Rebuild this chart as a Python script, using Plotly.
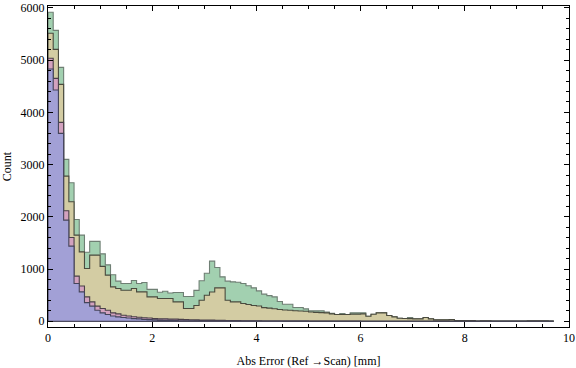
import plotly.graph_objects as go

bin_width = 0.1

# Counts per 0.1 mm bin, starting at 0.0 (97 bins: 0.0 .. 9.6)
green = [5918, 5572, 4863, 3100, 2652, 1949, 1649, 1320, 1530, 1530,
         1290, 1080, 890, 767, 722, 722, 780, 722, 741, 610,
         610, 555, 575, 540, 550, 550, 473, 473, 590, 775,
         920, 1150, 1030, 850, 767, 754, 745, 722, 680, 639,
         581, 518, 490, 466, 377, 326, 326, 262, 262, 236,
         198, 198, 198, 173, 150, 128, 147, 128, 160, 160,
         160, 96, 134, 160, 166, 109, 83, 58, 51, 70,
         45, 45, 70, 45, 26, 26, 26, 30, 12, 12,
         12, 12, 3, 10, 10, 2, 2, 2, 2, 2,
         2, 2, 10, 10, 10, 10, 5]

tan = [5515, 5208, 4537, 2780, 2288, 1648, 1329, 1010, 1265, 1265,
       1050, 882, 658, 626, 594, 594, 626, 562, 562, 466,
       466, 435, 435, 435, 370, 370, 243, 243, 300, 400,
       498, 560, 639, 639, 400, 370, 370, 340, 320, 300,
       290, 260, 250, 240, 225, 215, 210, 200, 195, 190,
       175, 170, 165, 160, 140, 128, 128, 128, 135, 135,
       140, 96, 134, 160, 160, 109, 83, 58, 51, 50,
       45, 45, 70, 45, 26, 26, 26, 30, 12, 12,
       12, 12, 3, 10, 10, 2, 2, 2, 2, 2,
       2, 2, 10, 10, 10, 10, 5]

pink = [5036, 4652, 3809, 2115, 1604, 863, 675, 466, 370, 288,
        243, 211, 160, 140, 115, 100, 85, 75, 65, 60,
        50, 45, 45, 40, 40, 35, 30, 25, 25, 20,
        20, 20, 18, 15, 12, 12, 12, 10, 8, 8,
        6, 5, 5, 4, 4, 3, 3, 2, 2, 2,
        1, 1, 1, 1, 1, 1, 1, 1, 1, 1,
        0, 0, 0, 0, 0, 0, 0, 0, 0, 0,
        0, 0, 0, 0, 0, 0, 0, 0, 0, 0,
        0, 0, 0, 0, 0, 0, 0, 0, 0, 0,
        0, 0, 0, 0, 0, 0, 0]

blue = [4831, 4428, 3598, 1936, 1438, 722, 562, 355, 288, 211,
        160, 128, 100, 83, 70, 60, 50, 45, 35, 30,
        25, 20, 18, 15, 12, 10, 8, 7, 6, 5,
        5, 5, 4, 4, 4, 3, 3, 3, 3, 3,
        3, 2, 2, 2, 2, 1, 1, 1, 1, 1,
        0, 0, 0, 0, 0, 0, 0, 0, 0, 0,
        0, 0, 0, 0, 0, 0, 0, 0, 0, 0,
        0, 0, 0, 0, 0, 0, 0, 0, 0, 0,
        0, 0, 0, 0, 0, 0, 0, 0, 0, 0,
        0, 0, 0, 0, 0, 0, 0]

x_title = "Abs Error (Ref \u2192Scan) [mm]"
y_title = "Count"


def outline(vals):
    xs, ys = [0.0], [0.0]
    for i, v in enumerate(vals):
        xs.append(round(i * bin_width, 4))
        ys.append(v)
    xs.append(round(len(vals) * bin_width, 4))
    ys.append(0)
    xs.append(0.0)
    ys.append(0)
    return xs, ys


series = [
    (green, "#a2d0b0", "#6f7f74"),
    (tan, "#d3cca3", "#4a4a3e"),
    (pink, "#d3a2bf", "#4a4048"),
    (blue, "#a2a0d6", "#44445a"),
]

fig = go.Figure()
for vals, fillc, linec in series:
    xs, ys = outline(vals)
    fig.add_trace(go.Scatter(
        x=xs, y=ys, mode="lines", line_shape="hv",
        fill="toself", fillcolor=fillc,
        line=dict(color=linec, width=1.1),
        hoverinfo="skip",
    ))

axis_common = dict(
    showgrid=False, zeroline=False, showline=True, linecolor="black",
    linewidth=1, mirror="allticks", ticks="inside", tickcolor="black",
    tickwidth=1, ticklen=5, automargin=False,
    tickfont=dict(family="Liberation Serif", size=12, color="black"),
)

fig.update_xaxes(
    range=[0, 10], tick0=0, dtick=2,
    minor=dict(dtick=0.5, ticks="inside", ticklen=3, tickcolor="black", showgrid=False),
    title=dict(text=x_title,
               font=dict(family="Liberation Serif", size=12, color="black")),
    **axis_common,
)
fig.update_yaxes(
    range=[-111, 6038], tick0=0, dtick=1000,
    minor=dict(dtick=200, ticks="inside", ticklen=3, tickcolor="black", showgrid=False),
    title=dict(text=y_title,
               font=dict(family="Liberation Serif", size=12, color="black")),
    **axis_common,
)

fig.update_layout(
    width=576, height=368,
    margin=dict(l=48, r=7, t=6, b=41),
    plot_bgcolor="white", paper_bgcolor="white",
    showlegend=False,
)

fig.write_html("out.html",
               config={"displayModeBar": False},
               post_script="document.body.style.margin='0';document.body.style.padding='0';")
